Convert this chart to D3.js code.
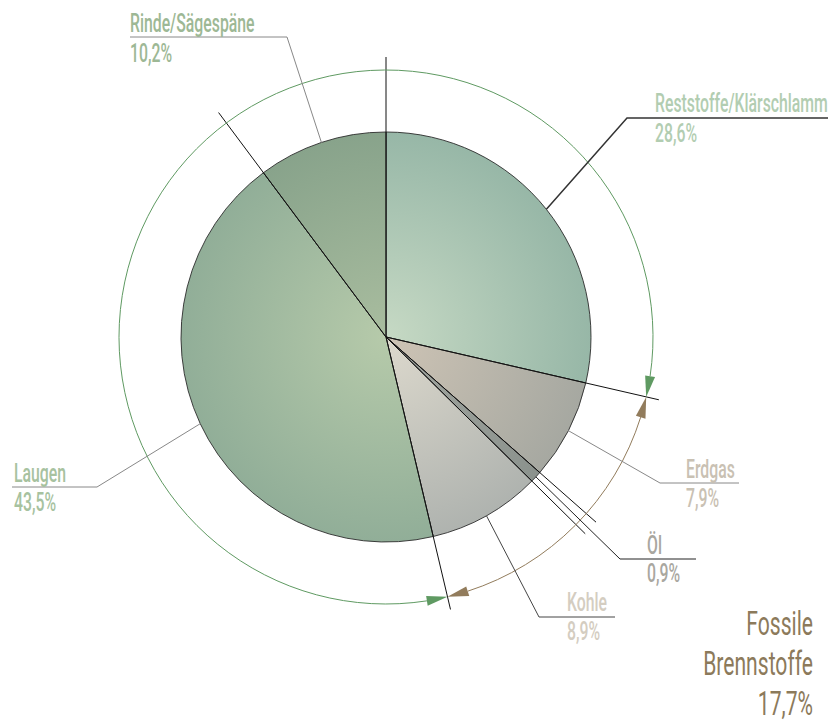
<!DOCTYPE html>
<html>
<head>
<meta charset="utf-8">
<script src="https://cdn.jsdelivr.net/npm/d3@7"></script>
<style>
  body { margin: 0; background: #fff; }
  text { font-family: Roboto, "Liberation Sans", sans-serif; font-weight: 500; }
</style>
</head>
<body>
<script>
// Brennstoffeinsatz - shares in percent, clockwise from 12 o'clock
var categories = ["Reststoffe/Klärschlamm", "Erdgas", "Öl", "Kohle", "Laugen", "Rinde/Sägespäne"];
var shares = [28.6, 7.9, 0.9, 8.9, 43.5, 10.2];
var shareLabels = ["28,6%", "7,9%", "0,9%", "8,9%", "43,5%", "10,2%"];
var fossil = [false, true, true, true, false, false];
var fossilTitle = ["Fossile", "Brennstoffe", "17,7%"];

// colours: [gradient centre, gradient edge, label]
var sliceColors = [
  ["#c6d9c4", "#97b7a7", "#b2cdb1"],
  ["#cec4b5", "#a6a8a1", "#c9c1b3"],
  ["#a3a7a1", "#8b928d", "#a9a79f"],
  ["#ddd9cd", "#afb3af", "#d4cdc1"],
  ["#b6caaa", "#91ae98", "#a7c29f"],
  ["#a9bd9f", "#88a38b", "#9db895"]
];
var lineColors = ["#333", "#888", "#222", "#444", "#888", "#888"];

// label layout: elbow point, underline end, text x, baselines
var labelLayout = [
  {ex: 627, ey: 118, ux: 828, tx: 655, b1: 112, b2: 142},
  {ex: 660, ey: 483, ux: 739, tx: 686, b1: 478, b2: 507},
  {ex: 620, ey: 559, ux: 696, tx: 647, b1: 554, b2: 582},
  {ex: 539, ey: 617, ux: 615, tx: 567, b1: 611, b2: 640},
  {ex: 97,  ey: 487, ux: 12,  tx: 14,  b1: 482, b2: 511},
  {ex: 287, ey: 37,  ux: 130, tx: 130, b1: 32,  b2: 62}
];

var width = 839, height = 724;
var cx = 386, cy = 337, radius = 205, lineR = 280, ringR = 267;
var labelSize = 26, titleSize = 34;

var svg = d3.select("body").append("svg")
    .attr("width", width)
    .attr("height", height);

// horizontal squeeze so the text comes out as narrow as the condensed original
function squeezeFor(str, size, target) {
  var probe = svg.append("text").style("font-size", size + "px").text(str);
  var f = target / probe.node().getComputedTextLength();
  probe.remove();
  return f;
}
var squeeze = squeezeFor(categories[0], labelSize, 173);
var titleSqueeze = squeezeFor(fossilTitle[1], titleSize, 111);

var pie = d3.pie().sort(null).value(function(d) { return d; });
var arcs = pie(shares);

var pt = function(a, r) { return [cx + r * Math.sin(a), cy - r * Math.cos(a)]; };

var defs = svg.append("defs");
sliceColors.forEach(function(c, i) {
  var gr = defs.append("radialGradient")
      .attr("id", "grad" + i)
      .attr("gradientUnits", "userSpaceOnUse")
      .attr("cx", 0).attr("cy", 0).attr("r", radius);
  gr.append("stop").attr("offset", "0%").attr("stop-color", c[0]);
  gr.append("stop").attr("offset", "100%").attr("stop-color", c[1]);
});

var arc = d3.arc().innerRadius(0).outerRadius(radius);

var g = svg.append("g").attr("transform", "translate(" + cx + "," + cy + ")");
g.selectAll(".slice")
    .data(arcs)
  .enter().append("path")
    .attr("class", "slice")
    .attr("d", arc)
    .attr("fill", function(d, i) { return "url(#grad" + i + ")"; })
    .attr("stroke", "#2b2b2b")
    .attr("stroke-width", 0.9);

// separator lines reaching out past the pie
svg.selectAll(".sep")
    .data(arcs)
  .enter().append("line")
    .attr("class", "sep")
    .attr("x1", cx).attr("y1", cy)
    .attr("x2", function(d) { return pt(d.startAngle, lineR)[0]; })
    .attr("y2", function(d) { return pt(d.startAngle, lineR)[1]; })
    .attr("stroke", "#111")
    .attr("stroke-width", 1);

// outer ring arcs with arrowheads
var arrowLen = 21, arrowHalf = 5;
function ring(a0, a1, color) {
  var d = arrowLen / ringR;
  var p = d3.path();
  p.arc(cx, cy, ringR, a0 + d - Math.PI / 2, a1 - d - Math.PI / 2, false);
  svg.append("path").attr("d", p.toString())
      .attr("fill", "none").attr("stroke", color).attr("stroke-width", 1);
  var heads = [[a0, a0 + d], [a1, a1 - d]];
  heads.forEach(function(h) {
    var tip = pt(h[0], ringR), b1 = pt(h[1], ringR + arrowHalf), b2 = pt(h[1], ringR - arrowHalf);
    svg.append("path")
        .attr("d", "M" + tip + "L" + b1 + "L" + b2 + "Z")
        .attr("fill", color);
  });
}
ring(arcs[4].startAngle, arcs[0].endAngle + 2 * Math.PI, "#5f9a62");
ring(arcs[1].startAngle, arcs[3].endAngle, "#927c5c");

// leader lines and labels
arcs.forEach(function(d, i) {
  var L = labelLayout[i];
  var mid = (d.startAngle + d.endAngle) / 2;
  var s = pt(mid, radius);
  svg.append("polyline")
      .attr("points", [s, [L.ex, L.ey], [L.ux, L.ey]].join(" "))
      .attr("fill", "none")
      .attr("stroke", lineColors[i])
      .attr("stroke-width", i === 0 ? 1.5 : 1);
  svg.append("text")
      .attr("transform", "translate(" + L.tx + "," + L.b1 + ") scale(" + squeeze + ",1)")
      .attr("fill", sliceColors[i][2])
      .style("font-size", labelSize + "px")
      .text(categories[i]);
  svg.append("text")
      .attr("transform", "translate(" + L.tx + "," + L.b2 + ") scale(" + squeeze + ",1)")
      .attr("fill", sliceColors[i][2])
      .style("font-size", labelSize + "px")
      .text(shareLabels[i]);
});

// fossil total
var fossilBase = [635, 675, 715];
fossilTitle.forEach(function(t, i) {
  svg.append("text")
      .attr("transform", "translate(813," + fossilBase[i] + ") scale(" + titleSqueeze + ",1)")
      .attr("text-anchor", "end")
      .attr("fill", "#8c7a5b")
      .style("font-size", titleSize + "px")
      .style("font-weight", 400)
      .text(t);
});
</script>
</body>
</html>
